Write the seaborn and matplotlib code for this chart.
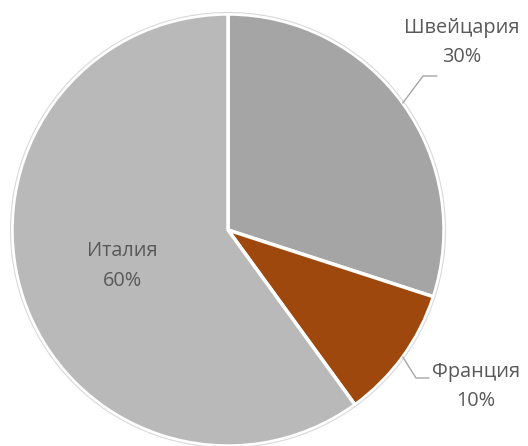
import numpy as np
import matplotlib
matplotlib.use('Agg')
import matplotlib.pyplot as plt
import seaborn as sns

sns.set_style('white')
plt.rcParams['font.family'] = ['Open Sans', 'DejaVu Sans']

countries = ['Швейцария', 'Франция', 'Италия']
shares = [30, 10, 60]
colors = ['#a5a5a5', '#9e480e', '#b9b9b9']

fig = plt.figure(figsize=(5.28, 4.46), dpi=100)
ax = fig.add_axes([0, 0, 1, 1])

cx, cy, r = 228, 216, 216
wedges, _ = ax.pie(shares, colors=colors, startangle=90, counterclock=False,
                   center=(cx, cy), radius=r, frame=True,
                   wedgeprops=dict(edgecolor='white', linewidth=2.5))
ax.set_xlim(0, 528)
ax.set_ylim(0, 446)
ax.set_aspect('equal')
ax.axis('off')

# faint outer ring
ax.add_patch(plt.Circle((cx, cy), r + 1.5, fill=False, edgecolor='#d9d9d9', linewidth=0.8))

txt_color = '#595959'
fs = 14.3

# label positions (text centre, elbow of leader line, end of leader line)
label_pos = {
    'Швейцария': ((462, 403), (423, 370), (437, 370)),
    'Франция': ((476, 60), (416, 68), (429, 68)),
}

for w, name, val in zip(wedges, countries, shares):
    mid = np.deg2rad((w.theta1 + w.theta2) / 2)
    label = f'{name}\n{val}%'
    if name in label_pos:
        (tx, ty), elbow, end = label_pos[name]
        ex, ey = cx + r * np.cos(mid), cy + r * np.sin(mid)
        ax.plot([ex, elbow[0], end[0]], [ey, elbow[1], end[1]],
                color='#a6a6a6', linewidth=1)
        ax.text(tx, ty, label, ha='center', va='center', fontsize=fs,
                color=txt_color, linespacing=1.6)
    else:
        ax.text(122, 180, label, ha='center', va='center', fontsize=fs,
                color=txt_color, linespacing=1.6)

fig.savefig('out.png', dpi=100)
